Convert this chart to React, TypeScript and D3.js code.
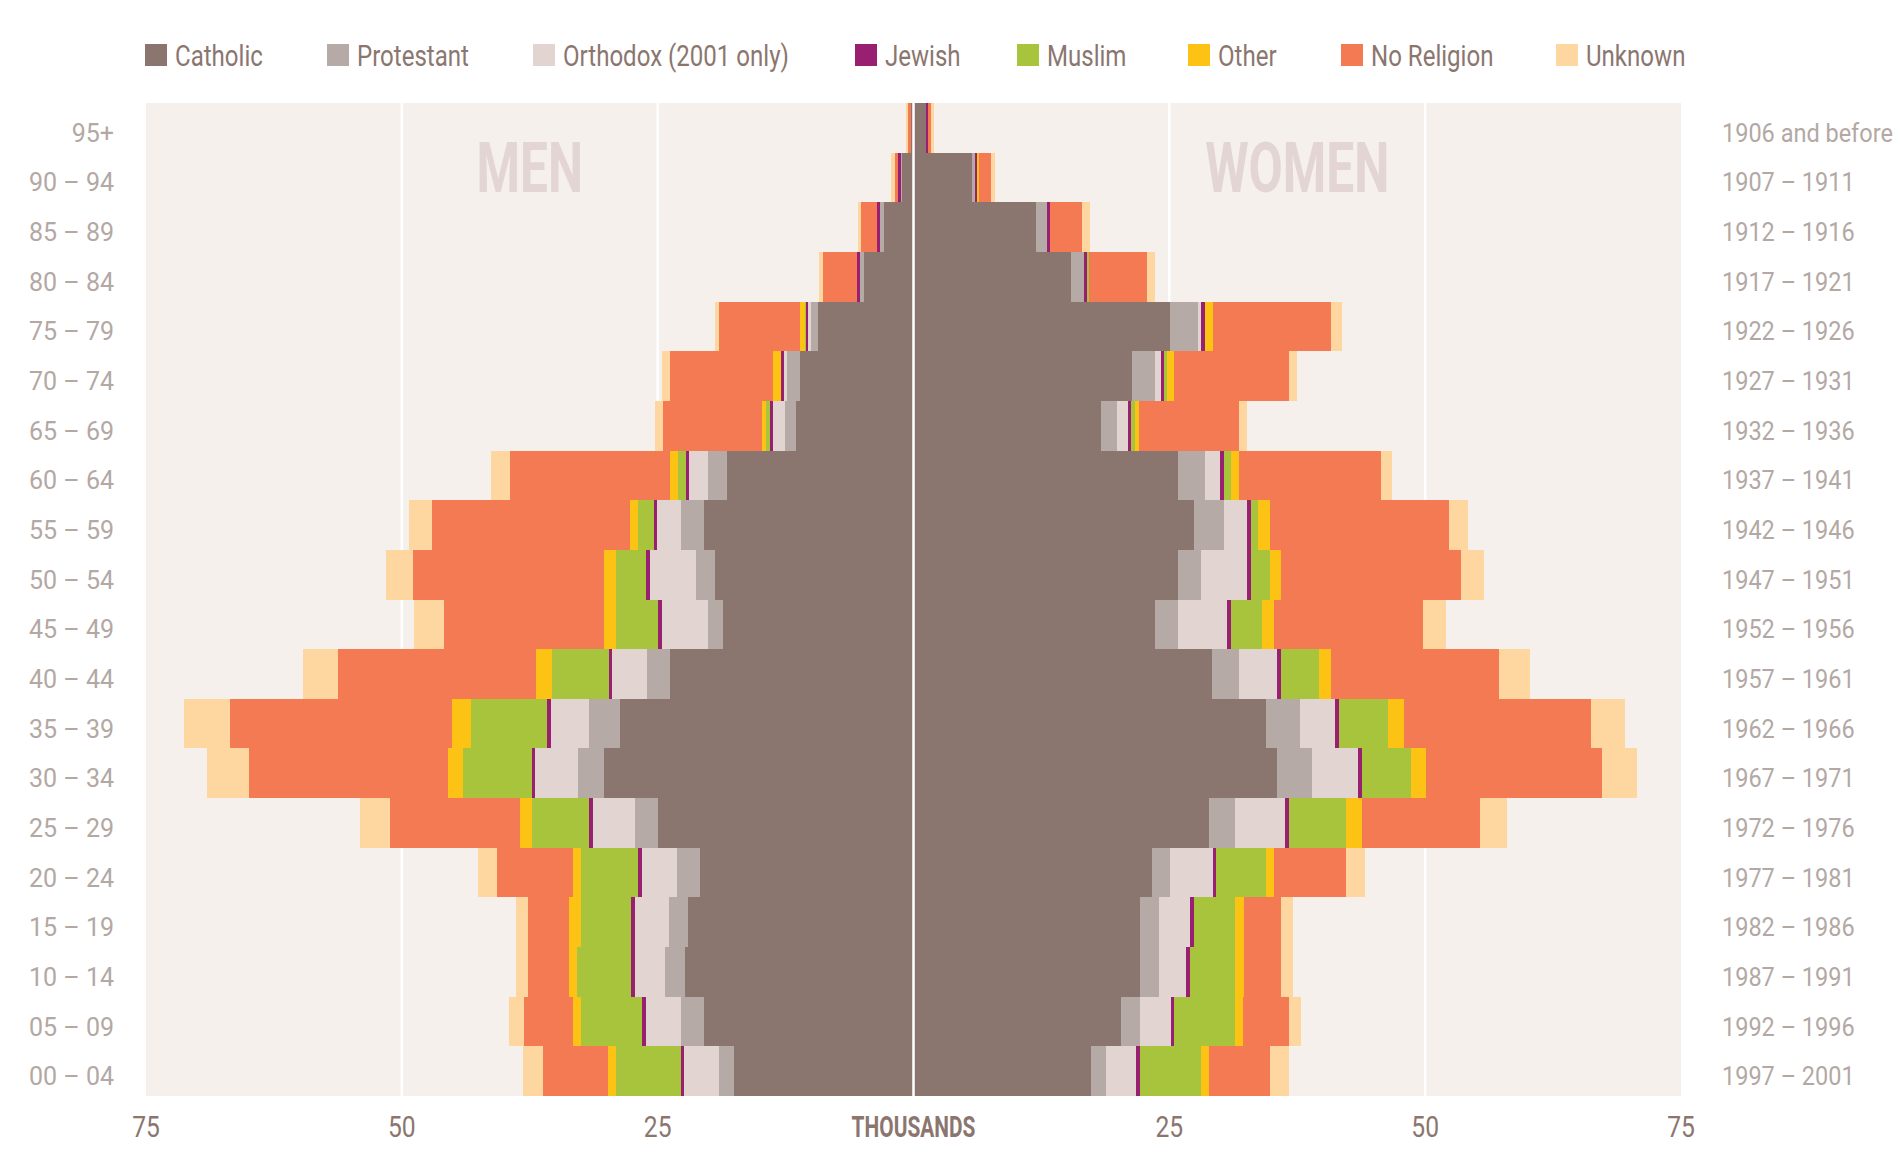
import React from "react";
import * as d3 from "d3";

// age bands, top row first
const ageGroups = [
  "95+", "90 – 94", "85 – 89", "80 – 84", "75 – 79", "70 – 74", "65 – 69",
  "60 – 64", "55 – 59", "50 – 54", "45 – 49", "40 – 44", "35 – 39", "30 – 34",
  "25 – 29", "20 – 24", "15 – 19", "10 – 14", "05 – 09", "00 – 04",
];
const birthYears = [
  "1906 and before", "1907 – 1911", "1912 – 1916", "1917 – 1921", "1922 – 1926",
  "1927 – 1931", "1932 – 1936", "1937 – 1941", "1942 – 1946", "1947 – 1951",
  "1952 – 1956", "1957 – 1961", "1962 – 1966", "1967 – 1971", "1972 – 1976",
  "1977 – 1981", "1982 – 1986", "1987 – 1991", "1992 – 1996", "1997 – 2001",
];

const religions = [
  "Catholic", "Protestant", "Orthodox (2001 only)", "Jewish",
  "Muslim", "Other", "No Religion", "Unknown",
];
const religionColors = [
  "#8b766f", "#b5aaa6", "#e2d4d1", "#991f71",
  "#a8c43c", "#fdc314", "#f47a53", "#fdd6a0",
];

// thousands, men
const menCatholic = [0.2, 1.1, 2.9, 4.8, 9.3, 11.1, 11.5, 18.2, 20.5, 19.4, 18.6, 23.8, 28.7, 30.2, 25.0, 20.9, 22.0, 22.3, 20.5, 17.5];
const menProtestant = [0.03, 0.1, 0.34, 0.39, 0.73, 1.22, 1.07, 1.85, 2.24, 1.85, 1.46, 2.24, 2.97, 2.63, 2.24, 2.24, 1.85, 1.95, 2.24, 1.51];
const menOrthodox = [0, 0, 0, 0, 0.24, 0.3, 1.17, 1.85, 2.29, 4.52, 4.52, 3.4, 3.74, 4.13, 4.08, 3.4, 3.4, 3.01, 3.4, 3.4];
const menJewish = [0.03, 0.3, 0.35, 0.3, 0.2, 0.3, 0.3, 0.34, 0.34, 0.34, 0.39, 0.34, 0.39, 0.34, 0.39, 0.34, 0.34, 0.34, 0.39, 0.34];
const menMuslim = [0, 0, 0, 0, 0.15, 0, 0.39, 0.73, 1.51, 3.01, 4.08, 5.59, 7.44, 6.71, 5.59, 5.59, 4.86, 5.25, 5.93, 6.37];
const menOther = [0, 0, 0, 0, 0.49, 0.83, 0.34, 0.83, 0.78, 1.17, 1.17, 1.51, 1.9, 1.51, 1.17, 0.78, 1.17, 0.78, 0.78, 0.78];
const menNoReligion = [0.25, 0.35, 1.5, 3.36, 7.93, 10.07, 9.73, 15.66, 19.4, 18.62, 15.66, 19.4, 21.64, 19.45, 12.64, 7.44, 4.08, 4.08, 4.81, 6.32];
const menUnknown = [0.2, 0.3, 0.34, 0.39, 0.34, 0.78, 0.78, 1.85, 2.24, 2.63, 2.97, 3.36, 4.52, 4.08, 3.01, 1.9, 1.12, 1.12, 1.51, 1.9];

// thousands, women
const womenCatholic = [1.2, 5.74, 11.96, 15.41, 25.09, 21.34, 18.33, 25.87, 27.37, 25.87, 23.63, 29.17, 34.47, 35.54, 28.83, 23.29, 22.12, 22.12, 20.23, 17.31];
const womenProtestant = [0.05, 0.24, 1.12, 1.26, 2.67, 2.29, 1.51, 2.58, 2.97, 2.24, 2.24, 2.63, 3.31, 3.36, 2.58, 1.8, 1.9, 1.9, 1.9, 1.46];
const womenOrthodox = [0, 0, 0, 0, 0.3, 0.58, 1.12, 1.51, 2.24, 4.47, 4.81, 3.74, 3.4, 4.52, 4.91, 4.13, 2.97, 2.63, 3.01, 2.97];
const womenJewish = [0.2, 0.2, 0.3, 0.3, 0.39, 0.3, 0.34, 0.34, 0.39, 0.39, 0.34, 0.39, 0.39, 0.39, 0.34, 0.34, 0.39, 0.34, 0.34, 0.39];
const womenMuslim = [0, 0, 0, 0.2, 0, 0.3, 0.39, 0.73, 0.73, 1.85, 3.06, 3.7, 4.81, 4.81, 5.64, 4.86, 4.04, 4.43, 5.93, 5.98];
const womenOther = [0, 0.2, 0, 0, 0.78, 0.68, 0.39, 0.78, 1.12, 1.12, 1.12, 1.17, 1.51, 1.51, 1.51, 0.78, 0.83, 0.83, 0.83, 0.78];
const womenNoReligion = [0.3, 1.22, 3.11, 5.69, 11.52, 11.18, 9.73, 13.86, 17.55, 17.6, 14.54, 16.44, 18.33, 17.17, 11.57, 7.1, 3.7, 3.7, 4.43, 5.93];
const womenUnknown = [0.25, 0.34, 0.73, 0.78, 1.17, 0.78, 0.78, 1.12, 1.85, 2.19, 2.29, 3.01, 3.31, 3.4, 2.58, 1.85, 1.12, 1.12, 1.17, 1.9];

const axisTicks = [25, 50, 75];

// layout
const W = 1895;
const H = 1150;
const plot = { left: 146, right: 1681, top: 103, bottom: 1096 };
const center = (plot.left + plot.right) / 2;
const legendX = [145, 327, 533, 855, 1017, 1188, 1341, 1556];

const textColor = "#8b766f";
const labelColor = "#b3a8a4";
const font = "Roboto, 'Liberation Sans', sans-serif";

function buildRows(series) {
  return ageGroups.map((age, i) => {
    const row = { age };
    religions.forEach((r, k) => (row[r] = series[k][i]));
    return row;
  });
}

const menRows = buildRows([menCatholic, menProtestant, menOrthodox, menJewish, menMuslim, menOther, menNoReligion, menUnknown]);
const womenRows = buildRows([womenCatholic, womenProtestant, womenOrthodox, womenJewish, womenMuslim, womenOther, womenNoReligion, womenUnknown]);

export default function App() {
  const xMen = d3.scaleLinear().domain([0, 75]).range([center, plot.left]);
  const xWomen = d3.scaleLinear().domain([0, 75]).range([center, plot.right]);
  const y = d3.scaleBand().domain(ageGroups).range([plot.top, plot.bottom]).padding(0);
  const color = d3.scaleOrdinal().domain(religions).range(religionColors);

  const stack = d3.stack().keys(religions);
  const menStack = stack(menRows);
  const womenStack = stack(womenRows);

  return (
    <svg
      width={W}
      height={H}
      style={{ position: "absolute", left: 0, top: 0, background: "#fff" }}
    >
      {/* legend */}
      {religions.map((r, i) => (
        <g key={r} transform={`translate(${legendX[i]}, 44)`}>
          <rect width={22} height={22} fill={color(r)} />
          <text
            transform="translate(30, 22) scale(0.83, 1)"
            fontFamily={font}
            fontSize={29}
            fill={textColor}
          >
            {r}
          </text>
        </g>
      ))}

      {/* plot background */}
      <rect
        x={plot.left}
        y={plot.top}
        width={plot.right - plot.left}
        height={plot.bottom - plot.top}
        fill="#f5f0ec"
      />

      {/* grid */}
      {[25, 50].map(t => (
        <g key={t}>
          <line x1={xMen(t)} x2={xMen(t)} y1={plot.top} y2={plot.bottom} stroke="#fff" strokeWidth={2.5} />
          <line x1={xWomen(t)} x2={xWomen(t)} y1={plot.top} y2={plot.bottom} stroke="#fff" strokeWidth={2.5} />
        </g>
      ))}

      {/* MEN / WOMEN */}
      <text
        transform={`translate(${xMen(37.5)}, 192) scale(0.7, 1)`}
        textAnchor="middle"
        fontFamily={font}
        fontWeight="bold"
        fontSize={71}
        fill="#e3d5d3"
      >
        MEN
      </text>
      <text
        transform={`translate(${xWomen(37.5)}, 192) scale(0.7, 1)`}
        textAnchor="middle"
        fontFamily={font}
        fontWeight="bold"
        fontSize={71}
        fill="#e3d5d3"
      >
        WOMEN
      </text>

      {/* bars */}
      <g shapeRendering="crispEdges">
        {menStack.map(layer =>
          layer.map((d, i) => (
            <rect
              key={`m-${layer.key}-${i}`}
              x={xMen(d[1])}
              y={y(ageGroups[i])}
              width={Math.max(0, xMen(d[0]) - xMen(d[1]))}
              height={y.bandwidth()}
              fill={color(layer.key)}
            />
          ))
        )}
        {womenStack.map(layer =>
          layer.map((d, i) => (
            <rect
              key={`w-${layer.key}-${i}`}
              x={xWomen(d[0])}
              y={y(ageGroups[i])}
              width={Math.max(0, xWomen(d[1]) - xWomen(d[0]))}
              height={y.bandwidth()}
              fill={color(layer.key)}
            />
          ))
        )}
      </g>

      {/* center line */}
      <line x1={center} x2={center} y1={plot.top} y2={plot.bottom} stroke="#fff" strokeWidth={2.5} />

      {/* age labels */}
      {ageGroups.map(g => (
        <text
          key={g}
          x={114}
          y={y(g) + y.bandwidth() / 2 + 14}
          textAnchor="end"
          fontFamily={font}
          fontSize={25}
          fill={labelColor}
        >
          {g}
        </text>
      ))}

      {/* birth year labels */}
      {birthYears.map((b, i) => (
        <text
          key={b}
          transform={`translate(1722, ${y(ageGroups[i]) + y.bandwidth() / 2 + 14}) scale(0.94, 1)`}
          fontFamily={font}
          fontSize={25}
          fill={labelColor}
        >
          {b}
        </text>
      ))}

      {/* bottom axis */}
      {axisTicks.map(t => (
        <g key={t}>
          <text
            transform={`translate(${xMen(t)}, 1137) scale(0.85, 1)`}
            textAnchor="middle"
            fontFamily={font}
            fontSize={29}
            fill={textColor}
          >
            {t}
          </text>
          <text
            transform={`translate(${xWomen(t)}, 1137) scale(0.85, 1)`}
            textAnchor="middle"
            fontFamily={font}
            fontSize={29}
            fill={textColor}
          >
            {t}
          </text>
        </g>
      ))}
      <text
        transform={`translate(${center}, 1137) scale(0.72, 1)`}
        textAnchor="middle"
        fontFamily={font}
        fontWeight="bold"
        fontSize={29}
        fill={textColor}
      >
        THOUSANDS
      </text>
    </svg>
  );
}
